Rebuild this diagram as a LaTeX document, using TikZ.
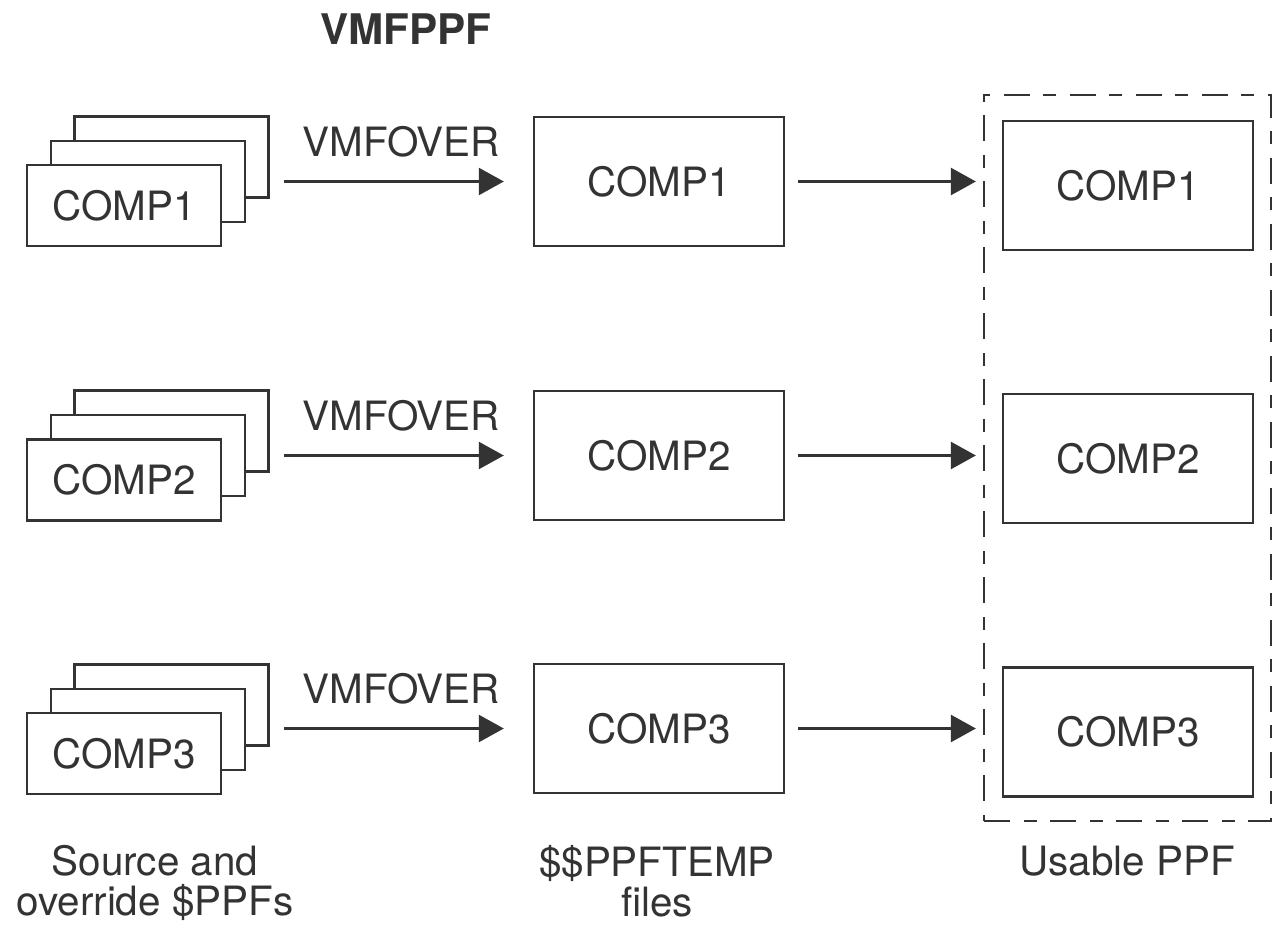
\documentclass[tikz,border=0pt]{standalone}
\usepackage{fontspec}
\setmainfont{TeX Gyre Heros}
\usepackage{tikz}
\usetikzlibrary{arrows.meta, positioning}
\usepackage{xcolor}
\definecolor{inkgray}{HTML}{333333}

\begin{document}
\begin{tikzpicture}[x=0.02cm, y=-0.02cm, inkgray, text=inkgray,
    every node/.style={font=\fontsize{23}{23}\selectfont},
    sheet/.style={draw, line width=1.4pt, fill=white,
                  minimum width=3.88cm, minimum height=1.62cm},
    tempbox/.style={draw, line width=1.4pt, minimum width=5cm, minimum height=2.58cm},
    flow/.style={-{Triangle[length=0.5cm, width=0.54cm]}, line width=1.4pt},
    overlbl/.style={midway, above=0.46cm, inner sep=0}]
    \useasboundingbox (0,0) rectangle (1272,926);

    % title
    \node[font=\fontsize{24}{24}\selectfont\bfseries, inner sep=0] (title) at (406, 29) {VMFPPF};

    % source and override stacks
    \node[sheet] (b1) at (171.5, 157) {};
    \node[sheet] (c1) at (148, 181.5) {};
    \node[sheet] (s1) at (124, 205.5) {COMP1};
    \node[sheet] (b2) at (171.5, 431) {};
    \node[sheet] (c2) at (148, 455.5) {};
    \node[sheet] (s2) at (124, 480) {COMP2};
    \node[sheet] (b3) at (171.5, 705) {};
    \node[sheet] (c3) at (148, 729.5) {};
    \node[sheet] (s3) at (124, 753.5) {COMP3};

    % temp files
    \node[tempbox] (m1) at (659, 181.5) {COMP1};
    \node[tempbox] (m2) at (659, 455.5) {COMP2};
    \node[tempbox] (m3) at (659, 728.5) {COMP3};

    % usable ppf
    \node[draw, line width=1.3pt, dash pattern=on 0.52cm off 0.28cm on 0.26cm off 0.26cm,
          minimum width=5.74cm, minimum height=14.52cm] (usable) at (1127.5, 458) {};
    \node[tempbox] (u1) at (1128, 185.5) {COMP1};
    \node[tempbox] (u2) at (1128, 458.5) {COMP2};
    \node[tempbox] (u3) at (1128, 732) {COMP3};

    \draw[flow, shorten <=0.28cm, shorten >=0.58cm] (b1.east |- m1.west) -- (m1.west)
        node[overlbl] (v1) {VMFOVER};
    \draw[flow, shorten <=0.28cm, shorten >=0.58cm] (b2.east |- m2.west) -- (m2.west)
        node[overlbl] (v2) {VMFOVER};
    \draw[flow, shorten <=0.28cm, shorten >=0.58cm] (b3.east |- m3.west) -- (m3.west)
        node[overlbl] (v3) {VMFOVER};
    \draw[flow, shorten <=0.26cm, shorten >=0.14cm] (m1.east) -- (usable.west |- m1.east);
    \draw[flow, shorten <=0.26cm, shorten >=0.14cm] (m2.east) -- (usable.west |- m2.east);
    \draw[flow, shorten <=0.26cm, shorten >=0.14cm] (m3.east) -- (usable.west |- m3.east);

    % captions
    \node[anchor=north, inner sep=0, align=center] (capsrc) at (155, 845) {Source and\\override \$PPFs};
    \node[anchor=north, inner sep=0, align=center] (captmp) at (657, 845) {\$\$PPFTEMP\\files};
    \node[anchor=north, inner sep=0] (capuse) at (1127, 846) {Usable PPF};
\end{tikzpicture}
\end{document}
